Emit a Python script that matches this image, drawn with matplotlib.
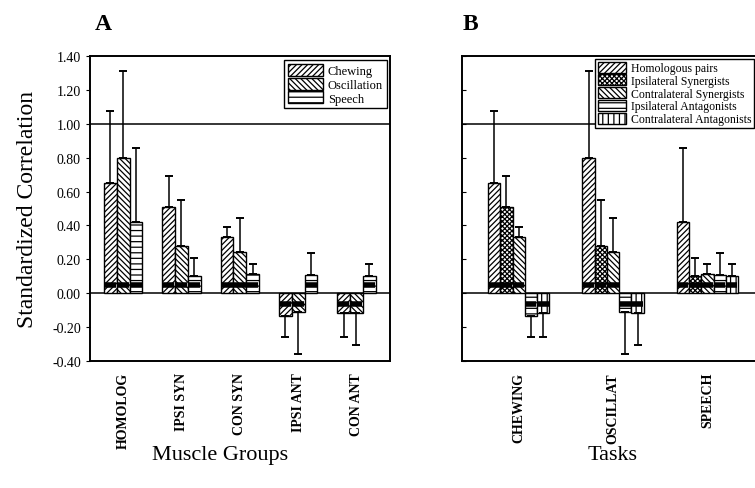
import matplotlib
matplotlib.use("Agg")
import matplotlib.pyplot as plt
from matplotlib.patches import Patch
import numpy as np

plt.rcParams['font.family'] = ['Liberation Serif', 'DejaVu Serif']
plt.rcParams['hatch.linewidth'] = 0.9

groups = ["HOMOLOG", "IPSI SYN", "CON SYN", "IPSI ANT", "CON ANT"]
group_names = ["Homologous pairs", "Ipsilateral Synergists", "Contralateral Synergists",
               "Ipsilateral Antagonists", "Contralateral Antagonists"]
tasks = ["CHEWING", "OSCILLAT", "SPEECH"]
task_names = ["Chewing", "Oscillation", "Speech"]

# mean standardized correlation, rows = muscle groups, cols = tasks
means = np.array([
    [0.65, 0.80, 0.42],
    [0.51, 0.28, 0.10],
    [0.33, 0.245, 0.115],
    [-0.135, -0.11, 0.105],
    [-0.115, -0.115, 0.10],
])
# one-sided standard deviations
sds = np.array([
    [0.425, 0.515, 0.44],
    [0.18, 0.27, 0.11],
    [0.06, 0.20, 0.055],
    [0.125, 0.25, 0.135],
    [0.145, 0.19, 0.07],
])
# chance level (black bars)
chance = np.array([
    [0.05, 0.05, 0.05],
    [0.05, 0.05, 0.05],
    [0.05, 0.05, 0.05],
    [-0.065, -0.065, 0.05],
    [-0.065, -0.065, 0.05],
])

yticks = [1.4, 1.2, 1.0, 0.8, 0.6, 0.4, 0.2, 0.0, -0.2, -0.4]

task_hatch = ['//////', '\\\\\\\\\\\\', '---']
group_hatch = ['//////', 'xxxxxxx', '\\\\\\\\\\\\', '---', '|||']


def draw_bars(ax, vals, errs, ch, hatches, width):
    n_cat, n_ser = vals.shape
    x = np.arange(n_cat)
    for j in range(n_ser):
        xs = x + (j - (n_ser - 1) / 2) * width
        ax.bar(xs, vals[:, j], width, color='white', edgecolor='black',
               hatch=hatches[j], linewidth=1.0, zorder=2)
        lo = np.where(vals[:, j] < 0, errs[:, j], 0)
        hi = np.where(vals[:, j] >= 0, errs[:, j], 0)
        ax.errorbar(xs, vals[:, j], yerr=[lo, hi], fmt='none', ecolor='black',
                    elinewidth=1.1, capsize=3, capthick=1.4, zorder=3)
        ax.hlines(ch[:, j], xs - width * 0.45, xs + width * 0.45,
                  colors='black', linewidth=4, zorder=4)


def style_axis(ax, labels, xlim):
    ax.set_ylim(-0.4, 1.4)
    ax.set_xlim(*xlim)
    ax.set_yticks(yticks)
    ax.axhline(0, color='black', lw=1.1, zorder=1)
    ax.axhline(1.0, color='black', lw=1.1, zorder=1)
    ax.set_xticks(np.arange(len(labels)))
    ax.set_xticklabels(labels, rotation=90, fontsize=10, fontweight='bold')
    ax.tick_params(axis='x', length=0, pad=8)
    for s in ax.spines.values():
        s.set_linewidth(1.4)


fig = plt.figure(figsize=(7.55, 4.89), dpi=100)

axA = fig.add_axes([0.119, 0.26, 0.398, 0.623])
draw_bars(axA, means, sds, chance, task_hatch, 0.22)
style_axis(axA, groups, (-0.57, 4.58))
axA.set_yticklabels(["%.2f" % v for v in yticks], fontsize=10)
axA.tick_params(axis='y', direction='out', length=3)
axA.set_ylabel("Standardized Correlation", fontsize=17, labelpad=10)
axA.legend([Patch(facecolor='white', edgecolor='black', hatch=h) for h in task_hatch],
           task_names, loc='upper right', fontsize=9, frameon=True, fancybox=False,
           edgecolor='black', framealpha=1, handlelength=2.8, handleheight=1.1,
           labelspacing=0.05, borderpad=0.3, handletextpad=0.4, borderaxespad=0.3)

axB = fig.add_axes([0.612, 0.26, 0.400, 0.623])
draw_bars(axB, means.T, sds.T, chance.T, group_hatch, 0.13)
style_axis(axB, tasks, (-0.6, 2.6))
axB.set_yticklabels([])
axB.tick_params(axis='y', direction='in', length=3)
axB.legend([Patch(facecolor='white', edgecolor='black', hatch=h) for h in group_hatch],
           group_names, loc='upper right', bbox_to_anchor=(0.999, 0.878),
           bbox_transform=fig.transFigure, fontsize=8.5, frameon=True, fancybox=False,
           edgecolor='black', framealpha=1, handlelength=2.4, handleheight=1.05,
           labelspacing=0.02, borderpad=0.25, handletextpad=0.4, borderaxespad=0.0)

fig.text(0.137, 0.95, "A", fontsize=17, fontweight='bold', ha='center', va='center')
fig.text(0.623, 0.95, "B", fontsize=17, fontweight='bold', ha='center', va='center')
fig.text(0.292, 0.068, "Muscle Groups", fontsize=16, ha='center', va='center')
fig.text(0.811, 0.068, "Tasks", fontsize=16, ha='center', va='center')

fig.savefig("out.png", dpi=100)
